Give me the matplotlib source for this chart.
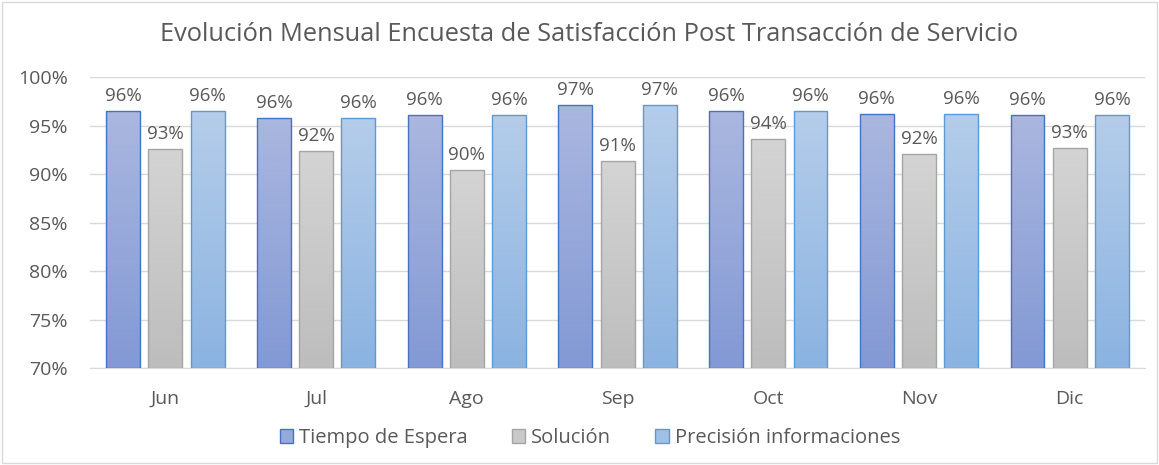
import numpy as np
import matplotlib.pyplot as plt
import matplotlib.colors as mcolors
from matplotlib.patches import Rectangle

months = ['Jun', 'Jul', 'Ago', 'Sep', 'Oct', 'Nov', 'Dic']
tiempo = [0.965, 0.958, 0.961, 0.971, 0.965, 0.962, 0.961]
solucion = [0.926, 0.924, 0.904, 0.914, 0.936, 0.921, 0.927]
precision = [0.965, 0.958, 0.961, 0.971, 0.965, 0.962, 0.961]
series_names = ['Tiempo de Espera', 'Solución', 'Precisión informaciones']

# (top colour, bottom colour, edge colour)
styles = [('#aab7df', '#8399d5', '#4472c4'),
          ('#d4d4d4', '#bdbdbd', '#a5a5a5'),
          ('#b5cdea', '#8bb3e1', '#5b9bd5')]

plt.rcParams['font.family'] = ['Open Sans', 'DejaVu Sans']
txt = '#595959'

fig = plt.figure(figsize=(11.59, 4.65), dpi=100)
fig.patches.append(Rectangle((0.002, 0.004), 0.996, 0.992, transform=fig.transFigure,
                             fill=False, edgecolor='#d9d9d9', lw=1))
ax = fig.add_axes([0.0777, 0.2086, 0.9103, 0.6255])
ymin, ymax = 0.70, 1.00

x = np.arange(len(months))
w = 0.225
off = 0.28
handles = []
for i, (vals, st, name) in enumerate(zip([tiempo, solucion, precision], styles, series_names)):
    top_c, bot_c, edge_c = st
    cmap = mcolors.LinearSegmentedColormap.from_list('g%d' % i, [bot_c, top_c])
    bars = ax.bar(x + (i - 1) * off, np.array(vals) - ymin, bottom=ymin, width=w,
                  facecolor='none', edgecolor=edge_c, linewidth=1, zorder=3)
    for b, v in zip(bars, vals):
        x0 = b.get_x()
        grad = np.linspace(0, 1, 256).reshape(-1, 1)
        im = ax.imshow(grad, cmap=cmap, origin='lower', aspect='auto',
                       extent=[x0, x0 + w, ymin, v], zorder=2)
        im.set_clip_path(b)
        ax.text(b.get_x() + w / 2, v + 0.006, '%d%%' % round(v * 100), ha='center', va='bottom',
                fontsize=13.5, color=txt)
    handles.append(Rectangle((0, 0), 1, 1, facecolor=mcolors.to_hex(cmap(0.5)), edgecolor=edge_c, lw=1))

ax.set_xlim(-0.5, len(months) - 0.5)
ax.set_ylim(ymin, ymax)
ax.set_yticks(np.arange(0.70, 1.001, 0.05))
ax.set_yticklabels(['%d%%' % round(t * 100) for t in np.arange(0.70, 1.001, 0.05)])
ax.set_xticks(x)
ax.set_xticklabels(months)
ax.tick_params(axis='both', length=0, labelsize=14, colors=txt)
ax.tick_params(axis='x', pad=16)
ax.tick_params(axis='y', pad=16)
ax.grid(axis='y', color='#d9d9d9', lw=1, zorder=0)
ax.set_axisbelow(True)
for s in ['top', 'right', 'left']:
    ax.spines[s].set_visible(False)
ax.spines['bottom'].set_color('#d9d9d9')

fig.text(0.508, 0.925, 'Evolución Mensual Encuesta de Satisfacción Post Transacción de Servicio',
         ha='center', va='center', fontsize=18.3, color=txt)
fig.legend(handles, series_names, loc='center', bbox_to_anchor=(0.509, 0.058), ncol=3,
           frameon=False, fontsize=14.5, labelcolor=txt, handlelength=0.65, handleheight=0.65,
           handletextpad=0.3, columnspacing=2.2)

fig.savefig('out.png', dpi=100)
